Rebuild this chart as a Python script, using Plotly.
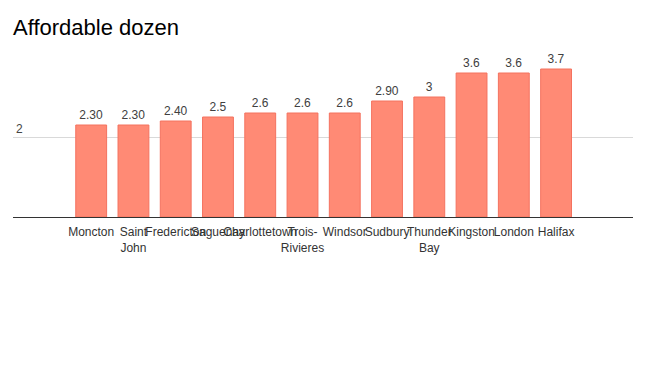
import plotly.graph_objects as go

cities = ["Moncton", "Saint<br>John", "Fredericton", "Saguenay", "Charlottetown", "Trois-<br>Rivieres",
          "Windsor", "Sudbury", "Thunder<br>Bay", "Kingston", "London", "Halifax"]
prices = [2.30, 2.30, 2.40, 2.5, 2.6, 2.6, 2.6, 2.90, 3, 3.6, 3.6, 3.7]
labels = ["2.30", "2.30", "2.40", "2.5", "2.6", "2.6", "2.6", "2.90", "3", "3.6", "3.6", "3.7"]

fig = go.Figure(go.Bar(
    x=cities, y=prices, text=labels, textposition="outside",
    textfont=dict(family="Arial, Liberation Sans", size=12, color="#404040"),
    marker=dict(color="#ff8a75", line=dict(color="#f4725f", width=1)),
    cliponaxis=False,
))

fig.update_layout(
    width=668, height=392,
    margin=dict(l=13, r=35, t=57, b=175),
    paper_bgcolor="white", plot_bgcolor="white",
    title=dict(text="Affordable dozen", x=0, xanchor="left", xref="paper", y=0.93, yanchor="middle",
               font=dict(family="Arial, Liberation Sans", size=22, color="#000")),
    bargap=0.27,
    showlegend=False,
)
fig.update_xaxes(
    range=[-1.85, 12.82], tickangle=0, ticklabelstandoff=4,
    tickfont=dict(family="Arial, Liberation Sans", size=12, color="#333"),
    showline=True, linecolor="#333", linewidth=1, ticks="", showgrid=False,
)
fig.update_yaxes(
    range=[0, 4], tickvals=[2], ticktext=["2"], ticklabelposition="inside top",
    tickfont=dict(family="Arial, Liberation Sans", size=12, color="#444"),
    showgrid=True, gridcolor="#d9d9d9", zeroline=False, ticks="",
)

fig.write_html("out.html")
